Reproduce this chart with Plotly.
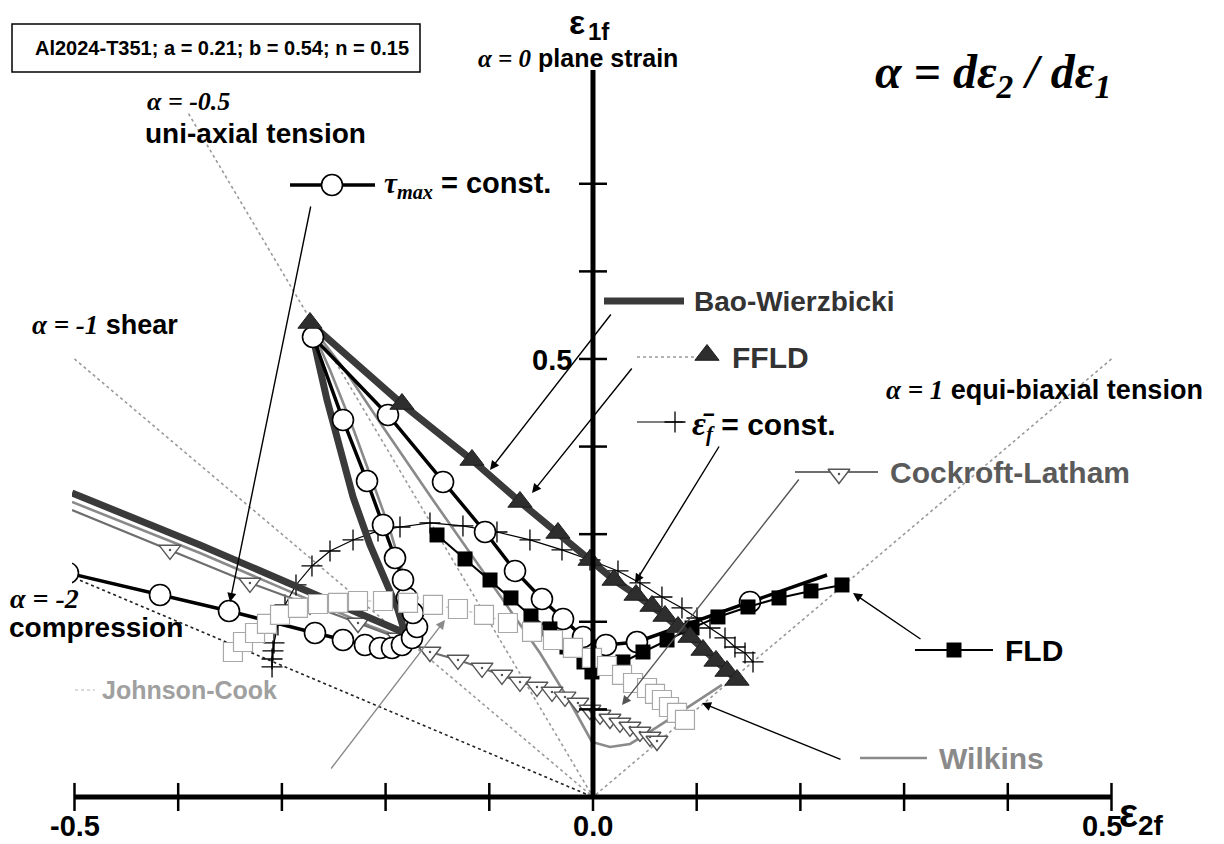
import plotly.graph_objects as go

W, H = 1224, 844
PLOT_LEFT = 72
X_RANGE = [-0.5024, 0.6085]
Y_RANGE = [-0.0537, 0.9098]

SANS = "Liberation Sans"
SERIF = "Liberation Serif"

# ---- fracture loci in (eps2, eps1) space ----
tau_max_e2 = [-0.5063, -0.4175, -0.3510, -0.2681, -0.2411, -0.2199, -0.2054, -0.1938, -0.1842,
              -0.1745, -0.1697, -0.1736, -0.1794, -0.1832, -0.1909, -0.2025, -0.2179, -0.2411,
              -0.2700, -0.1977, -0.1446, -0.1041, -0.0752, -0.0492, -0.0289, -0.0096, 0.0125,
              0.0424, 0.1514, 0.2257]
tau_max_e1 = [0.2557, 0.2306, 0.2123, 0.1872, 0.1792, 0.1735, 0.1701, 0.1701, 0.1735,
              0.1815, 0.1941, 0.2100, 0.2272, 0.2477, 0.2728, 0.3105, 0.3607, 0.4304,
              0.5251, 0.4361, 0.3596, 0.3025, 0.2580, 0.2260, 0.2032, 0.1826, 0.1735,
              0.1769, 0.2226, 0.2534]

bao_e2 = [-0.5024, -0.3790, -0.2825, -0.2150, -0.1880, -0.1813, -0.1880, -0.2006, -0.2150,
          -0.2314, -0.2440, -0.2565, -0.2652, -0.2729, -0.1842, -0.1167, -0.0704, -0.0338,
          -0.0029, 0.0203, 0.0415, 0.0694, 0.0935, 0.1186, 0.1418]
bao_e1 = [0.3470, 0.2877, 0.2386, 0.2043, 0.1918, 0.1872, 0.2135, 0.2477, 0.2877,
          0.3425, 0.3961, 0.4532, 0.4989, 0.5411, 0.4486, 0.3847, 0.3368, 0.3014,
          0.2705, 0.2477, 0.2306, 0.2066, 0.1826, 0.1553, 0.1301]

ffld_e2 = [-0.2729, -0.1842, -0.1167, -0.0704, -0.0338, -0.0029, 0.0203, 0.0415, 0.0569,
           0.0694, 0.0820, 0.0935, 0.1061, 0.1186, 0.1292, 0.1389]
ffld_e1 = [0.5411, 0.4486, 0.3847, 0.3368, 0.3014, 0.2705, 0.2477, 0.2306, 0.2180,
           0.2066, 0.1940, 0.1826, 0.1678, 0.1553, 0.1438, 0.1336]

epsf_e2 = [-0.3095, -0.3095, -0.3086, -0.3076, -0.3038, -0.2970, -0.2864, -0.2710, -0.2536,
           -0.2314, -0.2073, -0.1861, -0.1572, -0.1254, -0.0926, -0.0608, -0.0299, -0.0029,
           0.0241, 0.0453, 0.0665, 0.0858, 0.1003, 0.1128, 0.1273, 0.1369, 0.1466, 0.1543]
epsf_e1 = [0.1484, 0.1575, 0.1667, 0.1758, 0.1963, 0.2192, 0.2420, 0.2637, 0.2808,
           0.2934, 0.3037, 0.3082, 0.3128, 0.3094, 0.3025, 0.2934, 0.2820, 0.2705,
           0.2580, 0.2443, 0.2283, 0.2158, 0.2043, 0.1929, 0.1815, 0.1712, 0.1644, 0.1541]

fld_e2 = [-0.1504, -0.1234, -0.0993, -0.0791, -0.0598, -0.0415, -0.0251, -0.0087, -0.0010,
          0.0289, 0.0482, 0.0714, 0.0955, 0.1205, 0.1495, 0.1794, 0.2102, 0.2401]
fld_e1 = [0.2991, 0.2717, 0.2477, 0.2272, 0.2066, 0.1918, 0.1712, 0.1541, 0.1427,
          0.1541, 0.1655, 0.1792, 0.1929, 0.2055, 0.2169, 0.2272, 0.2352, 0.2420]

cl_e2 = [-0.5024, -0.4079, -0.3308, -0.2729, -0.2266, -0.1880, -0.1572, -0.1302, -0.1070,
         -0.0878, -0.0704, -0.0540, -0.0395, -0.0270, -0.0145, -0.0029, 0.0068, 0.0164,
         0.0260, 0.0357, 0.0453, 0.0550, 0.0617]
cl_e1 = [0.3276, 0.2820, 0.2443, 0.2192, 0.1986, 0.1815, 0.1655, 0.1564, 0.1473,
         0.1393, 0.1313, 0.1256, 0.1199, 0.1142, 0.1073, 0.0993, 0.0936, 0.0890,
         0.0845, 0.0799, 0.0742, 0.0685, 0.0639]

jc_e2 = [-0.3472, -0.3375, -0.3259, -0.3144, -0.3018, -0.2845, -0.2652, -0.2459, -0.2266,
         -0.2025, -0.1784, -0.1543, -0.1302, -0.1051, -0.0820, -0.0588, -0.0386, -0.0193,
         -0.0010, 0.0135, 0.0280, 0.0386, 0.0521, 0.0598, 0.0665, 0.0733, 0.0810, 0.0887]
jc_e1 = [0.1655, 0.1769, 0.1872, 0.1975, 0.2078, 0.2158, 0.2203, 0.2215, 0.2237,
         0.2237, 0.2215, 0.2192, 0.2146, 0.2078, 0.1986, 0.1884, 0.1792, 0.1701,
         0.1587, 0.1495, 0.1393, 0.1301, 0.1244, 0.1176, 0.1107, 0.1027, 0.0959, 0.0879]

wilkins_e2 = [-0.5024, -0.3790, -0.2825, -0.2150, -0.1784, -0.1707, -0.1813, -0.1958, -0.2131,
              -0.2343, -0.2536, -0.2729, -0.2392, -0.2025, -0.1543, -0.1041, -0.0511, -0.0222,
              -0.0010, 0.0164, 0.0357, 0.0501, 0.0646, 0.0935, 0.1244]
wilkins_e1 = [0.3368, 0.2785, 0.2295, 0.1952, 0.1792, 0.1963, 0.2477, 0.3048, 0.3619,
              0.4304, 0.4874, 0.5388, 0.4874, 0.4224, 0.3390, 0.2534, 0.1644, 0.1084,
              0.0628, 0.0571, 0.0605, 0.0708, 0.0822, 0.1039, 0.1279]

# strain-path rays eps2 = alpha * eps1, drawn up to the given eps1
alpha_rays = [-2.0, -1.0, -0.5, 1.0]
alpha_ray_end_e1 = [0.25, 0.50, 0.78, 0.50]

x_ticks = [-0.5, -0.4, -0.3, -0.2, -0.1, 0.0, 0.1, 0.2, 0.3, 0.4, 0.5]
y_ticks = [0.1, 0.2, 0.3, 0.4, 0.5, 0.6, 0.7]
x_tick_labels = {-0.5: "-0.5", 0.0: "0.0", 0.5: "0.5"}
y_axis_top = 0.83


def gx(px):
    return X_RANGE[0] + (px - PLOT_LEFT) * (X_RANGE[1] - X_RANGE[0]) / (W - PLOT_LEFT)


def gy(py):
    return Y_RANGE[1] - py * (Y_RANGE[1] - Y_RANGE[0]) / H


def paper_x(px):
    return (px - PLOT_LEFT) / (W - PLOT_LEFT)


def paper_y(py):
    return 1 - py / H


fig = go.Figure()

# rays
for a, e1 in zip(alpha_rays, alpha_ray_end_e1):
    color = "#222222" if a == -2.0 else "#9a9a9a"
    fig.add_trace(go.Scatter(x=[a * e1, 0], y=[e1, 0], mode="lines",
                             line=dict(color=color, width=1.6, dash="dot"), hoverinfo="skip"))

# axes
fig.add_shape(type="line", x0=-0.5, x1=0.5, y0=0, y1=0, line=dict(color="black", width=5))
fig.add_shape(type="line", x0=0, x1=0, y0=0, y1=y_axis_top, line=dict(color="black", width=5))
for t in x_ticks:
    fig.add_shape(type="line", x0=t, x1=t, y0=-0.016, y1=0.016, line=dict(color="black", width=2.5))
for t in y_ticks:
    fig.add_shape(type="line", x0=-0.0135, x1=0.0135, y0=t, y1=t, line=dict(color="black", width=2.5))

# curves
fig.add_trace(go.Scatter(x=wilkins_e2, y=wilkins_e1, mode="lines",
                         line=dict(color="#8a8a8a", width=2.6)))
fig.add_trace(go.Scatter(x=jc_e2, y=jc_e1, mode="lines",
                         line=dict(color="#b5b5b5", width=1.2, dash="dot")))
fig.add_trace(go.Scatter(x=epsf_e2, y=epsf_e1, mode="lines+markers",
                         line=dict(color="black", width=1.2),
                         marker=dict(symbol="cross-thin", size=15, line=dict(color="black", width=1.3))))
fig.add_trace(go.Scatter(x=cl_e2, y=cl_e1, mode="lines", line=dict(color="#6e6e6e", width=2.2)))
fig.add_trace(go.Scatter(x=cl_e2[1:], y=cl_e1[1:], mode="markers",
                         marker=dict(symbol="triangle-down", size=19, color="white",
                                     line=dict(color="#555555", width=1.4))))
fig.add_trace(go.Scatter(x=cl_e2[1:], y=cl_e1[1:], mode="markers",
                         marker=dict(symbol="circle", size=2.5, color="#555555")))
fig.add_trace(go.Scatter(x=bao_e2, y=bao_e1, mode="lines",
                         line=dict(color="#3a3a3a", width=7)))
fig.add_trace(go.Scatter(x=tau_max_e2, y=tau_max_e1, mode="lines",
                         line=dict(color="black", width=3.5)))
fig.add_trace(go.Scatter(x=tau_max_e2[:-1], y=tau_max_e1[:-1], mode="markers",
                         marker=dict(symbol="circle", size=21, color="white",
                                     line=dict(color="black", width=1.6))))
fig.add_trace(go.Scatter(x=fld_e2, y=fld_e1, mode="lines+markers",
                         line=dict(color="black", width=2),
                         marker=dict(symbol="square", size=15, color="black")))
fig.add_trace(go.Scatter(x=jc_e2, y=jc_e1, mode="markers",
                         marker=dict(symbol="square", size=19, color="white",
                                     line=dict(color="#a8a8a8", width=1.2))))
fig.add_trace(go.Scatter(x=ffld_e2, y=ffld_e1, mode="markers",
                         marker=dict(symbol="triangle-up", size=21, color="#2e2e2e",
                                     line=dict(color="#1e1e1e", width=1))))

# legend keys drawn next to their labels
def key_line(px0, px1, py, color, width, dash="solid"):
    fig.add_trace(go.Scatter(x=[gx(px0), gx(px1)], y=[gy(py), gy(py)], mode="lines",
                             line=dict(color=color, width=width, dash=dash), hoverinfo="skip"))


def key_marker(px, py, **marker):
    fig.add_trace(go.Scatter(x=[gx(px)], y=[gy(py)], mode="markers", marker=marker, hoverinfo="skip"))


key_line(290, 375, 185, "black", 3.5)
key_marker(332, 185, symbol="circle", size=21, color="white", line=dict(color="black", width=1.6))
key_line(604, 684, 301, "#3a3a3a", 7)
key_line(637, 700, 357, "#9a9a9a", 1.3, "dot")
key_marker(707, 355, symbol="triangle-up", size=21, color="#2e2e2e", line=dict(color="#1e1e1e", width=1))
key_line(637, 683, 422, "black", 1.2)
key_marker(675, 422, symbol="cross-thin", size=15, line=dict(color="black", width=1.3))
key_line(795, 878, 472, "#6e6e6e", 2.2)
key_marker(839, 474, symbol="triangle-down", size=19, color="white", line=dict(color="#555555", width=1.4))
key_marker(839, 474, symbol="circle", size=2.5, color="#555555")
key_line(915, 993, 650, "black", 2)
key_marker(954, 650, symbol="square", size=15, color="black")
key_line(860, 927, 758, "#8a8a8a", 2.6)
key_line(15, 95, 690, "#b5b5b5", 1.2, "dot")
key_marker(55, 690, symbol="square", size=19, color="white", line=dict(color="#a8a8a8", width=1.2))

# arrows from the labels to their curves
arrows = [
    ((230, 602), (311, 205), "black"),
    ((490, 470), (612, 313), "black"),
    ((532, 493), (633, 367), "black"),
    ((635, 583), (720, 445), "black"),
    ((622, 705), (800, 478), "#555555"),
    ((853, 593), (922, 640), "black"),
    ((702, 703), (842, 760), "black"),
    ((445, 620), (330, 770), "#8a8a8a"),
]
for (hx, hy), (tx, ty), c in arrows:
    fig.add_annotation(x=gx(hx), y=gy(hy), ax=gx(tx), ay=gy(ty), xref="x", yref="y",
                       axref="x", ayref="y", text="", showarrow=True, arrowhead=2,
                       arrowsize=1.3, arrowwidth=1.4, arrowcolor=c)


def label(text, px, py, size, color="black", family=SANS, anchor="left"):
    fig.add_annotation(x=paper_x(px), y=paper_y(py), xref="paper", yref="paper", text=text,
                       showarrow=False, xanchor=anchor, yanchor="middle",
                       font=dict(family=family, size=size, color=color))


def serif(t):
    return '<span style="font-family:Liberation Serif"><b><i>' + t + "</i></b></span>"


# material box
fig.add_shape(type="rect", xref="paper", yref="paper",
              x0=paper_x(12), x1=paper_x(420), y0=paper_y(24), y1=paper_y(72),
              line=dict(color="black", width=1.5))
label("<b>Al2024-T351; a = 0.21; b = 0.54; n = 0.15</b>", 33, 48, 20)

# axis titles and tick labels
label("<b>ε</b>", 587, 22, 34, anchor="right")
label("<b>1f</b>", 586, 32, 24)
label("<b>ε<sub>2f</sub></b>", 1117, 816, 40)
for t, s in x_tick_labels.items():
    anchor = "right" if t == 0.5 else "center"
    px = 593 + t * 1037 + (12 if t == 0.5 else 0)
    label("<b>" + s + "</b>", px, 826, 29, anchor=anchor)
label("<b>0.5</b>", 574, 360, 29, anchor="right")

# annotations of the loading paths
label(serif("α = 0") + "<b> plane strain</b>", 578, 58, 25, anchor="center")
label(serif("α = dε<sub>2</sub> / dε<sub>1</sub>"), 993, 75, 48, family=SERIF, anchor="center")
label(serif("α = -0.5"), 145, 102, 26, family=SERIF)
label("<b>uni-axial tension</b>", 143, 133, 28)
label(serif("α = -1") + "<b> shear</b>", 180, 325, 27, anchor="right")
label(serif("α = -2"), 8, 598, 28, family=SERIF)
label("<b>compression</b>", 7, 627, 28)
label(serif("α = 1") + "<b> equi-biaxial tension</b>", 1205, 390, 27, anchor="right")

# legend labels
label(serif("τ") + "<sub>" + serif("max") + "</sub><b> = const.</b>", 382, 185, 29)
label("<b>Bao-Wierzbicki</b>", 692, 301, 28, color="#333333")
label("<b>FFLD</b>", 730, 357, 30, color="#333333")
label('<span style="font-size:34px">' + serif("ε̄") + "</span><sub>" + serif("f") + "</sub><b> = const.</b>",
      690, 425, 30)
label("<b>Cockroft-Latham</b>", 888, 472, 30, color="#5a5a5a")
label("<b>FLD</b>", 1003, 650, 30)
label("<b>Wilkins</b>", 937, 758, 30, color="#8a8a8a")
label("<b>Johnson-Cook</b>", 100, 690, 25, color="#a0a0a0")

fig.update_layout(
    width=W, height=H, showlegend=False,
    margin=dict(l=PLOT_LEFT, r=0, t=0, b=0),
    paper_bgcolor="white", plot_bgcolor="white",
    xaxis=dict(range=X_RANGE, visible=False, fixedrange=True),
    yaxis=dict(range=Y_RANGE, visible=False, fixedrange=True),
)

fig.write_html("out.html")
